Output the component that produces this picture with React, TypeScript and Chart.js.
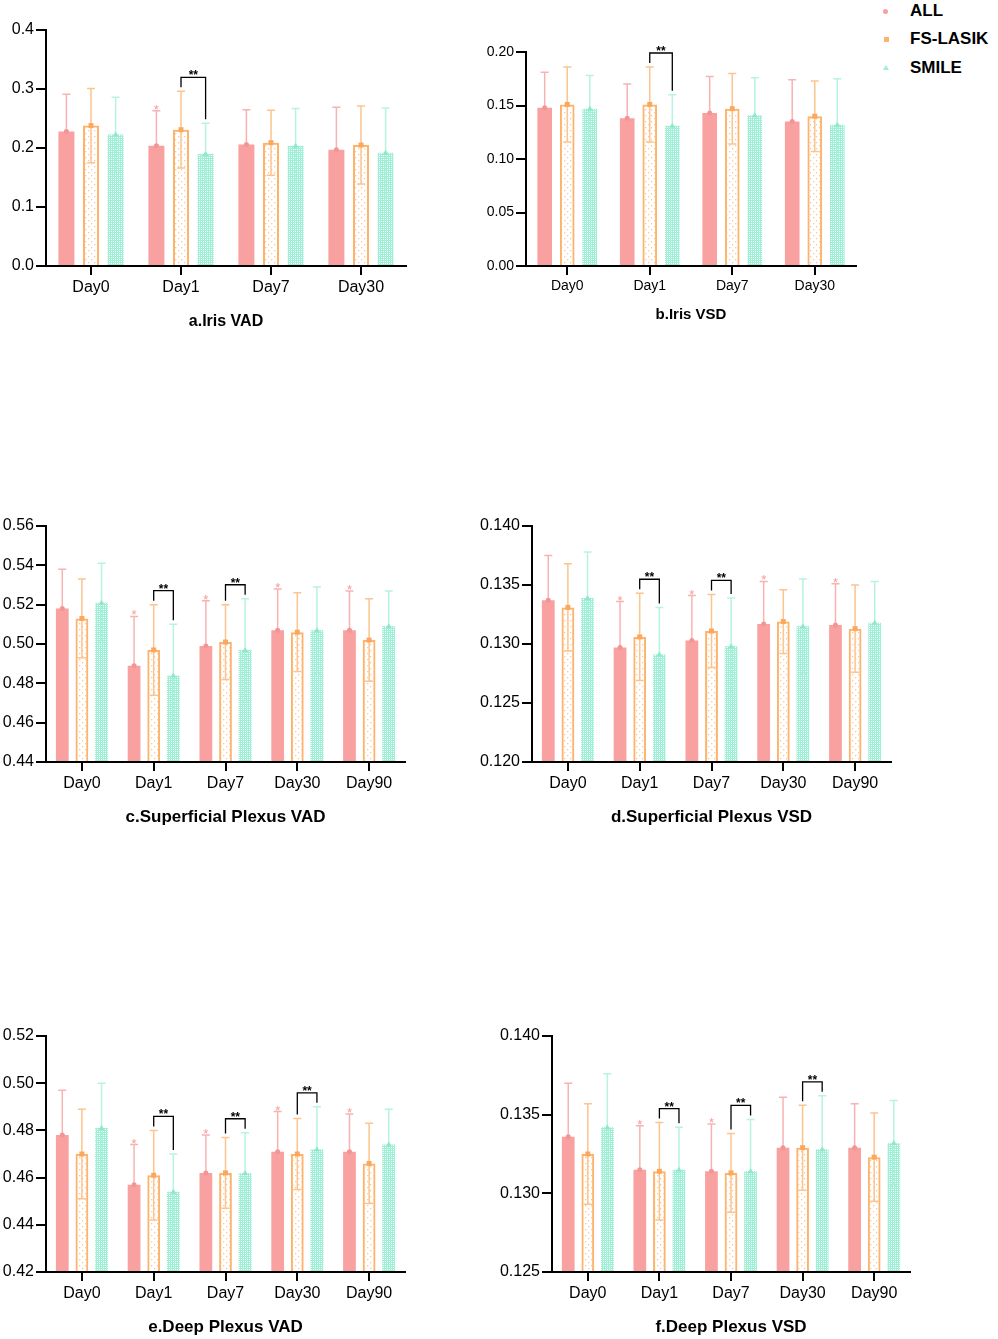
import { useEffect, useRef } from 'react';
import { Chart, registerables } from 'chart.js';

Chart.register(...registerables);
Chart.defaults.font.family = '"Liberation Sans", Arial, sans-serif';
Chart.defaults.color = '#000';

// categories
const days4 = ['Day0', 'Day1', 'Day7', 'Day30'];
const days5 = ['Day0', 'Day1', 'Day7', 'Day30', 'Day90'];

// a. Iris VAD
const irisVadAll = [0.228, 0.204, 0.206, 0.197];
const irisVadAllSd = [0.063, 0.059, 0.059, 0.072];
const irisVadFs = [0.238, 0.231, 0.209, 0.205];
const irisVadFsSd = [0.063, 0.065, 0.055, 0.066];
const irisVadSmile = [0.223, 0.19, 0.204, 0.192];
const irisVadSmileSd = [0.063, 0.052, 0.063, 0.076];
const irisVadTicks = [0, 0.1, 0.2, 0.3, 0.4];
const irisVadStars = [1];
const irisVadPairs = [1];

// b. Iris VSD
const irisVsdAll = [0.148, 0.138, 0.143, 0.135];
const irisVsdAllSd = [0.033, 0.032, 0.034, 0.039];
const irisVsdFs = [0.151, 0.151, 0.147, 0.14];
const irisVsdFsSd = [0.035, 0.035, 0.033, 0.033];
const irisVsdSmile = [0.147, 0.131, 0.141, 0.132];
const irisVsdSmileSd = [0.031, 0.029, 0.035, 0.043];
const irisVsdTicks = [0, 0.05, 0.1, 0.15, 0.2];
const irisVsdStars: number[] = [];
const irisVsdPairs = [1];

// c. Superficial Plexus VAD
const supVadAll = [0.518, 0.489, 0.499, 0.507, 0.507];
const supVadAllSd = [0.02, 0.025, 0.023, 0.021, 0.02];
const supVadFs = [0.513, 0.497, 0.501, 0.506, 0.502];
const supVadFsSd = [0.02, 0.023, 0.019, 0.02, 0.021];
const supVadSmile = [0.521, 0.484, 0.497, 0.507, 0.509];
const supVadSmileSd = [0.02, 0.026, 0.026, 0.022, 0.018];
const supVadTicks = [0.44, 0.46, 0.48, 0.5, 0.52, 0.54, 0.56];
const supVadStars = [1, 2, 3, 4];
const supVadPairs = [1, 2];

// d. Superficial Plexus VSD
const supVsdAll = [0.1337, 0.1297, 0.1303, 0.1317, 0.1316];
const supVsdAllSd = [0.0038, 0.0039, 0.0038, 0.0036, 0.0035];
const supVsdFs = [0.1331, 0.1306, 0.1311, 0.1319, 0.1313];
const supVsdFsSd = [0.0037, 0.0037, 0.0031, 0.0027, 0.0037];
const supVsdSmile = [0.1339, 0.1291, 0.1298, 0.1315, 0.1318];
const supVsdSmileSd = [0.0039, 0.004, 0.0041, 0.004, 0.0035];
const supVsdTicks = [0.12, 0.125, 0.13, 0.135, 0.14];
const supVsdStars = [1, 2, 3, 4];
const supVsdPairs = [1, 2];

// e. Deep Plexus VAD
const deepVadAll = [0.478, 0.457, 0.462, 0.471, 0.471];
const deepVadAllSd = [0.019, 0.017, 0.016, 0.017, 0.016];
const deepVadFs = [0.47, 0.461, 0.462, 0.47, 0.466];
const deepVadFsSd = [0.019, 0.019, 0.015, 0.015, 0.017];
const deepVadSmile = [0.481, 0.454, 0.462, 0.472, 0.474];
const deepVadSmileSd = [0.019, 0.016, 0.017, 0.018, 0.015];
const deepVadTicks = [0.42, 0.44, 0.46, 0.48, 0.5, 0.52];
const deepVadStars = [1, 2, 3, 4];
const deepVadPairs = [1, 2, 3];

// f. Deep Plexus VSD
const deepVsdAll = [0.1336, 0.1315, 0.1314, 0.1329, 0.1329];
const deepVsdAllSd = [0.0034, 0.0028, 0.003, 0.0032, 0.0028];
const deepVsdFs = [0.1325, 0.1314, 0.1313, 0.1329, 0.1323];
const deepVsdFsSd = [0.0032, 0.0031, 0.0025, 0.0027, 0.0028];
const deepVsdSmile = [0.1342, 0.1315, 0.1314, 0.1328, 0.1332];
const deepVsdSmileSd = [0.0034, 0.0027, 0.0033, 0.0034, 0.0027];
const deepVsdTicks = [0.125, 0.13, 0.135, 0.14];
const deepVsdStars = [1, 2];
const deepVsdPairs = [1, 2, 3];

const PINK = '#f9a0a0';
const PINK_ERR = '#f7b3b3';
const ORANGE = '#fdb36b';
const ORANGE_ERR = '#fcc48f';
const MINT = '#9eefd5';
const MINT_ERR = '#b6f3e1';

function dotPattern(ctx: CanvasRenderingContext2D) {
  const c = document.createElement('canvas');
  c.width = 6;
  c.height = 6;
  const g = c.getContext('2d')!;
  g.fillStyle = '#fcc896';
  g.fillRect(1, 1, 1.3, 1.3);
  g.fillRect(4, 4, 1.3, 1.3);
  return ctx.createPattern(c, 'repeat')!;
}

function gridPattern(ctx: CanvasRenderingContext2D) {
  const c = document.createElement('canvas');
  c.width = 4;
  c.height = 4;
  const g = c.getContext('2d')!;
  g.fillStyle = MINT;
  g.fillRect(0, 0, 4, 4);
  g.fillStyle = 'rgba(255,255,255,0.75)';
  g.clearRect(1, 1, 1, 1);
  g.clearRect(3, 3, 1, 1);
  g.fillRect(3, 1, 1, 1);
  g.fillRect(1, 3, 1, 1);
  return ctx.createPattern(c, 'repeat')!;
}

type Layout = {
  left: number; top: number; width: number; height: number;
  yW: number; padR: number; padT: number; xH: number; titlePad: number;
};

interface PanelProps {
  title: string;
  labels: string[];
  all: number[]; allSd: number[];
  fs: number[]; fsSd: number[];
  smile: number[]; smileSd: number[];
  ticks: number[];
  decimals: number;
  stars: number[];
  pairs: number[];
  layout: Layout;
  tickSize: number;
  titleSize: number;
}

function Panel(p: PanelProps) {
  const ref = useRef<HTMLCanvasElement>(null);
  const L = p.layout;

  useEffect(() => {
    if (!ref.current) return;
    const ctx = ref.current.getContext('2d');
    if (!ctx) return;

    const means = [p.all, p.fs, p.smile];
    const sds = [p.allSd, p.fsSd, p.smileSd];
    const errColors = [PINK_ERR, ORANGE_ERR, MINT_ERR];

    const marks = {
      id: 'marks',
      beforeDatasetsDraw(chart: any) {
        const y = chart.scales.y;
        const c = chart.ctx;
        c.save();
        c.lineWidth = 1.5;
        means.forEach((m, d) => {
          const meta = chart.getDatasetMeta(d);
          c.strokeStyle = errColors[d];
          m.forEach((v, i) => {
            const x = meta.data[i].x;
            const top = y.getPixelForValue(v + sds[d][i]);
            const bot = y.getPixelForValue(v - sds[d][i]);
            c.beginPath();
            c.moveTo(x, top);
            c.lineTo(x, bot);
            c.moveTo(x - 4, top);
            c.lineTo(x + 4, top);
            c.moveTo(x - 4, bot);
            c.lineTo(x + 4, bot);
            c.stroke();
          });
        });
        c.restore();
      },
      afterDatasetsDraw(chart: any) {
        const y = chart.scales.y;
        const c = chart.ctx;
        c.save();
        // mean markers
        means.forEach((m, d) => {
          const meta = chart.getDatasetMeta(d);
          m.forEach((v, i) => {
            const x = meta.data[i].x;
            const py = y.getPixelForValue(v);
            c.beginPath();
            if (d === 0) {
              c.fillStyle = '#f59494';
              c.arc(x, py, 2.5, 0, Math.PI * 2);
            } else if (d === 1) {
              c.fillStyle = '#fca85c';
              c.rect(x - 2.5, py - 2.5, 5, 5);
            } else {
              c.fillStyle = '#8fe8cc';
              c.moveTo(x, py - 3);
              c.lineTo(x + 3, py + 2);
              c.lineTo(x - 3, py + 2);
              c.closePath();
            }
            c.fill();
          });
        });
        // pink stars over ALL
        const allMeta = chart.getDatasetMeta(0);
        c.fillStyle = '#f59a9a';
        c.font = '13px "Liberation Sans", Arial, sans-serif';
        c.textAlign = 'center';
        c.textBaseline = 'alphabetic';
        p.stars.forEach((i) => {
          const x = allMeta.data[i].x;
          const cap = y.getPixelForValue(p.all[i] + p.allSd[i]);
          c.fillText('*', x, cap + 3);
        });
        // brackets FS-LASIK vs SMILE
        const fsMeta = chart.getDatasetMeta(1);
        const smMeta = chart.getDatasetMeta(2);
        c.strokeStyle = '#000';
        c.fillStyle = '#000';
        c.lineWidth = 1.3;
        c.font = 'bold 12px "Liberation Sans", Arial, sans-serif';
        p.pairs.forEach((i) => {
          const x1 = fsMeta.data[i].x;
          const x2 = smMeta.data[i].x;
          const t1 = y.getPixelForValue(p.fs[i] + p.fsSd[i]);
          const t2 = y.getPixelForValue(p.smile[i] + p.smileSd[i]);
          const yb = Math.min(t1, t2) - 14;
          c.beginPath();
          c.moveTo(x1, t1 - 4);
          c.lineTo(x1, yb);
          c.lineTo(x2, yb);
          c.lineTo(x2, t2 - 4);
          c.stroke();
          c.fillText('**', (x1 + x2) / 2, yb + 2);
        });
        c.restore();
      },
    };

    const axisGrid = (len: number) => ({
      display: true,
      offset: false,
      drawOnChartArea: false,
      drawTicks: true,
      tickLength: len,
      color: '#000',
      lineWidth: 2,
    });

    const chart = new Chart(ctx, {
      type: 'bar',
      data: {
        labels: p.labels,
        datasets: [
          { label: 'ALL', data: p.all, backgroundColor: PINK, borderWidth: 0 },
          { label: 'FS-LASIK', data: p.fs, backgroundColor: dotPattern(ctx), borderColor: ORANGE, borderWidth: 2 },
          { label: 'SMILE', data: p.smile, backgroundColor: gridPattern(ctx), borderWidth: 0 },
        ],
      },
      options: {
        responsive: false,
        animation: false,
        layout: { padding: { left: 0, top: L.padT, right: L.padR, bottom: 0 } },
        datasets: { bar: { categoryPercentage: 0.82, barPercentage: 0.65 } },
        plugins: { legend: { display: false }, tooltip: { enabled: false } },
        scales: {
          x: {
            offset: true,
            grid: axisGrid(9) as any,
            border: { display: true, color: '#000', width: 2, z: 1 },
            ticks: { color: '#000', font: { size: p.tickSize }, padding: 3 },
            title: {
              display: true,
              text: p.title,
              color: '#000',
              font: { size: p.titleSize, weight: 'bold' },
              padding: { top: 0, bottom: L.titlePad },
            },
            afterFit: (s: any) => { s.height = L.xH; },
          },
          y: {
            min: p.ticks[0],
            max: p.ticks[p.ticks.length - 1],
            beginAtZero: false,
            afterBuildTicks: (s: any) => { s.ticks = p.ticks.map((v) => ({ value: v })); },
            grid: axisGrid(10) as any,
            border: { display: true, color: '#000', width: 2, z: 1 },
            ticks: {
              color: '#000',
              font: { size: p.tickSize },
              padding: 2,
              callback: (v: any) => Number(v).toFixed(p.decimals),
            },
            afterFit: (s: any) => { s.width = L.yW; },
          },
        },
      },
      plugins: [marks],
    });

    return () => chart.destroy();
  }, []);

  return (
    <canvas
      ref={ref}
      width={L.width}
      height={L.height}
      style={{ position: 'absolute', left: L.left, top: L.top, width: L.width, height: L.height }}
    />
  );
}

const legendFont = '"Liberation Sans", Arial, sans-serif';

export default function App() {
  return (
    <div style={{ position: 'absolute', left: 0, top: 0, width: 998, height: 1339, background: '#fff' }}>
      <Panel
        title="a.Iris VAD" labels={days4}
        all={irisVadAll} allSd={irisVadAllSd} fs={irisVadFs} fsSd={irisVadFsSd}
        smile={irisVadSmile} smileSd={irisVadSmileSd}
        ticks={irisVadTicks} decimals={1} stars={irisVadStars} pairs={irisVadPairs}
        tickSize={16} titleSize={16}
        layout={{ left: 0, top: 0, width: 470, height: 345, yW: 46, padR: 64, padT: 30, xH: 79, titlePad: 14 }}
      />
      <Panel
        title="b.Iris VSD" labels={days4}
        all={irisVsdAll} allSd={irisVsdAllSd} fs={irisVsdFs} fsSd={irisVsdFsSd}
        smile={irisVsdSmile} smileSd={irisVsdSmileSd}
        ticks={irisVsdTicks} decimals={2} stars={irisVsdStars} pairs={irisVsdPairs}
        tickSize={14} titleSize={15}
        layout={{ left: 470, top: 0, width: 400, height: 340, yW: 56, padR: 14, padT: 52, xH: 74, titlePad: 16 }}
      />
      <Panel
        title="c.Superficial Plexus VAD" labels={days5}
        all={supVadAll} allSd={supVadAllSd} fs={supVadFs} fsSd={supVadFsSd}
        smile={supVadSmile} smileSd={supVadSmileSd}
        ticks={supVadTicks} decimals={2} stars={supVadStars} pairs={supVadPairs}
        tickSize={16} titleSize={17}
        layout={{ left: 0, top: 490, width: 470, height: 345, yW: 46, padR: 65, padT: 36, xH: 73, titlePad: 7 }}
      />
      <Panel
        title="d.Superficial Plexus VSD" labels={days5}
        all={supVsdAll} allSd={supVsdAllSd} fs={supVsdFs} fsSd={supVsdFsSd}
        smile={supVsdSmile} smileSd={supVsdSmileSd}
        ticks={supVsdTicks} decimals={3} stars={supVsdStars} pairs={supVsdPairs}
        tickSize={16} titleSize={17}
        layout={{ left: 470, top: 490, width: 470, height: 345, yW: 62, padR: 49, padT: 36, xH: 73, titlePad: 7 }}
      />
      <Panel
        title="e.Deep Plexus VAD" labels={days5}
        all={deepVadAll} allSd={deepVadAllSd} fs={deepVadFs} fsSd={deepVadFsSd}
        smile={deepVadSmile} smileSd={deepVadSmileSd}
        ticks={deepVadTicks} decimals={2} stars={deepVadStars} pairs={deepVadPairs}
        tickSize={16} titleSize={17}
        layout={{ left: 0, top: 1000, width: 470, height: 339, yW: 46, padR: 65, padT: 36, xH: 67, titlePad: 1 }}
      />
      <Panel
        title="f.Deep Plexus VSD" labels={days5}
        all={deepVsdAll} allSd={deepVsdAllSd} fs={deepVsdFs} fsSd={deepVsdFsSd}
        smile={deepVsdSmile} smileSd={deepVsdSmileSd}
        ticks={deepVsdTicks} decimals={3} stars={deepVsdStars} pairs={deepVsdPairs}
        tickSize={16} titleSize={17}
        layout={{ left: 470, top: 1000, width: 470, height: 339, yW: 82, padR: 30, padT: 36, xH: 67, titlePad: 1 }}
      />

      {/* legend */}
      <div style={{ position: 'absolute', left: 883, top: 8.5, width: 5, height: 5, borderRadius: '50%', background: PINK }} />
      <div style={{ position: 'absolute', left: 883.5, top: 36.5, width: 5, height: 5, background: ORANGE }} />
      <div
        style={{
          position: 'absolute', left: 883, top: 65, width: 0, height: 0,
          borderLeft: '3px solid transparent', borderRight: '3px solid transparent', borderBottom: '5px solid ' + MINT,
        }}
      />
      {['ALL', 'FS-LASIK', 'SMILE'].map((name, i) => (
        <div
          key={name}
          style={{
            position: 'absolute', left: 910, top: [1, 29, 58][i], height: 20, lineHeight: '20px',
            fontFamily: legendFont, fontWeight: 'bold', fontSize: 17, color: '#000', whiteSpace: 'nowrap',
          }}
        >
          {name}
        </div>
      ))}
    </div>
  );
}
